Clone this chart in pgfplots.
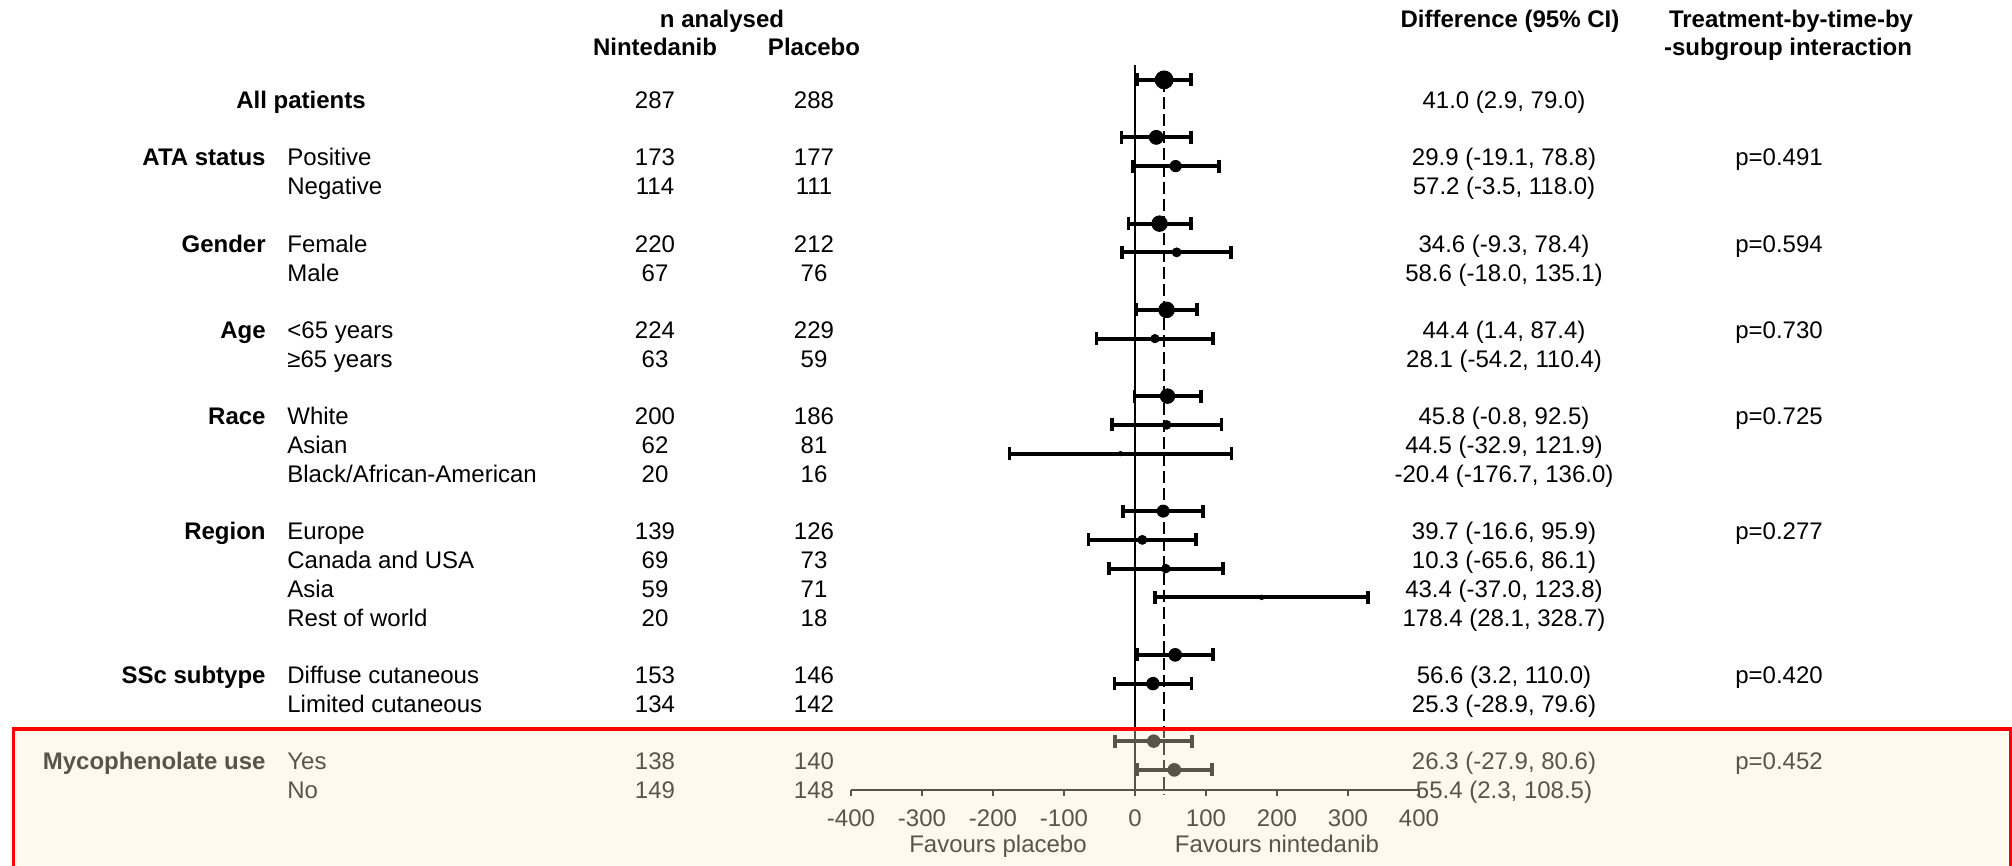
\documentclass[border=0pt]{standalone}
\usepackage{fontspec}
\setmainfont{Liberation Sans}
\usepackage{pgfplots}
\usepackage{pgfplotstable}
\pgfplotsset{compat=1.18}
\definecolor{overlaycol}{RGB}{252,236,206}

% point estimate, plotted row position, marker radius (pt)
\pgfplotstableread{
x y ms
41.0 0.7 4.5
29.9 -1.3 3.5
57.2 -2.3 2.85
34.6 -4.3 3.9
58.6 -5.3 2.25
44.4 -7.3 3.95
28.1 -8.3 2.1
45.8 -10.3 3.65
44.5 -11.3 2.2
-20.4 -12.3 1.1
39.7 -14.3 3.05
10.3 -15.3 2.25
43.4 -16.3 2.15
178.4 -17.3 1.15
56.6 -19.3 3.2
25.3 -20.3 3.15
26.3 -22.3 3.15
55.4 -23.3 3.2
}\estdata

% 95% CI segments (lower, upper), separated by nan
\pgfplotstableread{
x y
2.9 0.7
79.0 0.7
nan nan
-19.1 -1.3
78.8 -1.3
nan nan
-3.5 -2.3
118.0 -2.3
nan nan
-9.3 -4.3
78.4 -4.3
nan nan
-18.0 -5.3
135.1 -5.3
nan nan
1.4 -7.3
87.4 -7.3
nan nan
-54.2 -8.3
110.4 -8.3
nan nan
-0.8 -10.3
92.5 -10.3
nan nan
-32.9 -11.3
121.9 -11.3
nan nan
-176.7 -12.3
136.0 -12.3
nan nan
-16.6 -14.3
95.9 -14.3
nan nan
-65.6 -15.3
86.1 -15.3
nan nan
-37.0 -16.3
123.8 -16.3
nan nan
28.1 -17.3
328.7 -17.3
nan nan
3.2 -19.3
110.0 -19.3
nan nan
-28.9 -20.3
79.6 -20.3
nan nan
-27.9 -22.3
80.6 -22.3
nan nan
2.3 -23.3
108.5 -23.3
}\cidata

\newcommand\rowline[7]{%
  \node[anchor=base east] at (266,{108.5+28.75*#1}) {\textbf{#2}};
  \node[anchor=base west] at (287,{108.5+28.75*#1}) {#3};
  \node[anchor=base] at (655,{108.5+28.75*#1}) {#4};
  \node[anchor=base] at (814,{108.5+28.75*#1}) {#5};
  \node[anchor=base] at (1504,{108.5+28.75*#1}) {#6};
  \node[anchor=base] at (1779,{108.5+28.75*#1}) {#7};
}

\begin{document}
\begin{tikzpicture}[font=\fontsize{12}{14}\selectfont]
\path[use as bounding box] (0,0) rectangle (1006pt,-433pt);

\begin{axis}[
  at={(425.5pt,-395pt)}, anchor=south west,
  scale only axis, width=284pt, height=366.5625pt,
  xmin=-400, xmax=400, ymin=-24, ymax=1.5,
  clip=false,
  axis x line*=bottom, axis y line=none,
  axis line style={line width=1pt, black},
  xtick={-400,-300,-200,-100,0,100,200,300,400},
  xticklabels={-400,-300,-200,-100,0,100,200,300,400},
  ytick=\empty,
  tick align=outside, major tick length=3pt,
  every tick/.style={black, line width=1pt},
  xticklabel style={anchor=base, yshift=-15pt},
  tick label style={font=\fontsize{12}{14}\selectfont},
]
\addplot[black, line width=1pt] coordinates {(0,1.217) (0,-24)};
\addplot[black, line width=1pt, dash pattern=on 6pt off 2.5pt] coordinates {(41,0.7) (41,-24.17)};
% confidence intervals with end caps
\addplot[black, line width=1.9pt, unbounded coords=jump,
  mark=|, mark size=3.3pt, mark options={solid, line width=1.9pt}]
  table[x=x, y=y] {\cidata};
% point estimates
\addplot[
  only marks, mark=*, black,
  scatter, scatter/use mapped color={draw=black, fill=black},
  visualization depends on={\thisrow{ms} \as \ms},
  scatter/@pre marker code/.append style={/tikz/mark size=\ms, /tikz/line width=0.3pt},
] table[x=x, y=y] {\estdata};
\end{axis}

\begin{scope}[x=0.5pt, y=-0.5pt, every node/.style={inner sep=0pt}]
  % headers
  \node[anchor=base] at (722,27.5) {\textbf{n analysed}};
  \node[anchor=base] at (655,55.5) {\textbf{Nintedanib}};
  \node[anchor=base] at (814,55.5) {\textbf{Placebo}};
  \node[anchor=base] at (1510,27.5) {\textbf{Difference (95\% CI)}};
  \node[anchor=base] at (1791,27.5) {\textbf{Treatment-by-time-by}};
  \node[anchor=base] at (1788,55.5) {\textbf{-subgroup interaction}};
  % rows
  \node[anchor=base] at (301,108.5) {\textbf{All patients}};
  \rowline{0}{}{}{287}{288}{41.0 (2.9, 79.0)}{}
  \rowline{2}{ATA status}{Positive}{173}{177}{29.9 (-19.1, 78.8)}{p=0.491}
  \rowline{3}{}{Negative}{114}{111}{57.2 (-3.5, 118.0)}{}
  \rowline{5}{Gender}{Female}{220}{212}{34.6 (-9.3, 78.4)}{p=0.594}
  \rowline{6}{}{Male}{67}{76}{58.6 (-18.0, 135.1)}{}
  \rowline{8}{Age}{<65 years}{224}{229}{44.4 (1.4, 87.4)}{p=0.730}
  \rowline{9}{}{≥65 years}{63}{59}{28.1 (-54.2, 110.4)}{}
  \rowline{11}{Race}{White}{200}{186}{45.8 (-0.8, 92.5)}{p=0.725}
  \rowline{12}{}{Asian}{62}{81}{44.5 (-32.9, 121.9)}{}
  \rowline{13}{}{Black/African-American}{20}{16}{-20.4 (-176.7, 136.0)}{}
  \rowline{15}{Region}{Europe}{139}{126}{39.7 (-16.6, 95.9)}{p=0.277}
  \rowline{16}{}{Canada and USA}{69}{73}{10.3 (-65.6, 86.1)}{}
  \rowline{17}{}{Asia}{59}{71}{43.4 (-37.0, 123.8)}{}
  \rowline{18}{}{Rest of world}{20}{18}{178.4 (28.1, 328.7)}{}
  \rowline{20}{SSc subtype}{Diffuse cutaneous}{153}{146}{56.6 (3.2, 110.0)}{p=0.420}
  \rowline{21}{}{Limited cutaneous}{134}{142}{25.3 (-28.9, 79.6)}{}
  \rowline{23}{Mycophenolate use}{Yes}{138}{140}{26.3 (-27.9, 80.6)}{p=0.452}
  \rowline{24}{}{No}{149}{148}{55.4 (2.3, 108.5)}{}
  % axis captions
  \node[anchor=base] at (998,852) {Favours placebo};
  \node[anchor=base] at (1277,852) {Favours nintedanib};
\end{scope}

% highlight overlay
\fill[overlaycol, fill opacity=0.357] (6.6pt,-364.5pt) rectangle (1005.3pt,-445pt);
\draw[red, line width=1.7pt] (6.6pt,-445pt) -- (6.6pt,-364.5pt) -- (1005.3pt,-364.5pt) -- (1005.3pt,-445pt);
\end{tikzpicture}
\end{document}
